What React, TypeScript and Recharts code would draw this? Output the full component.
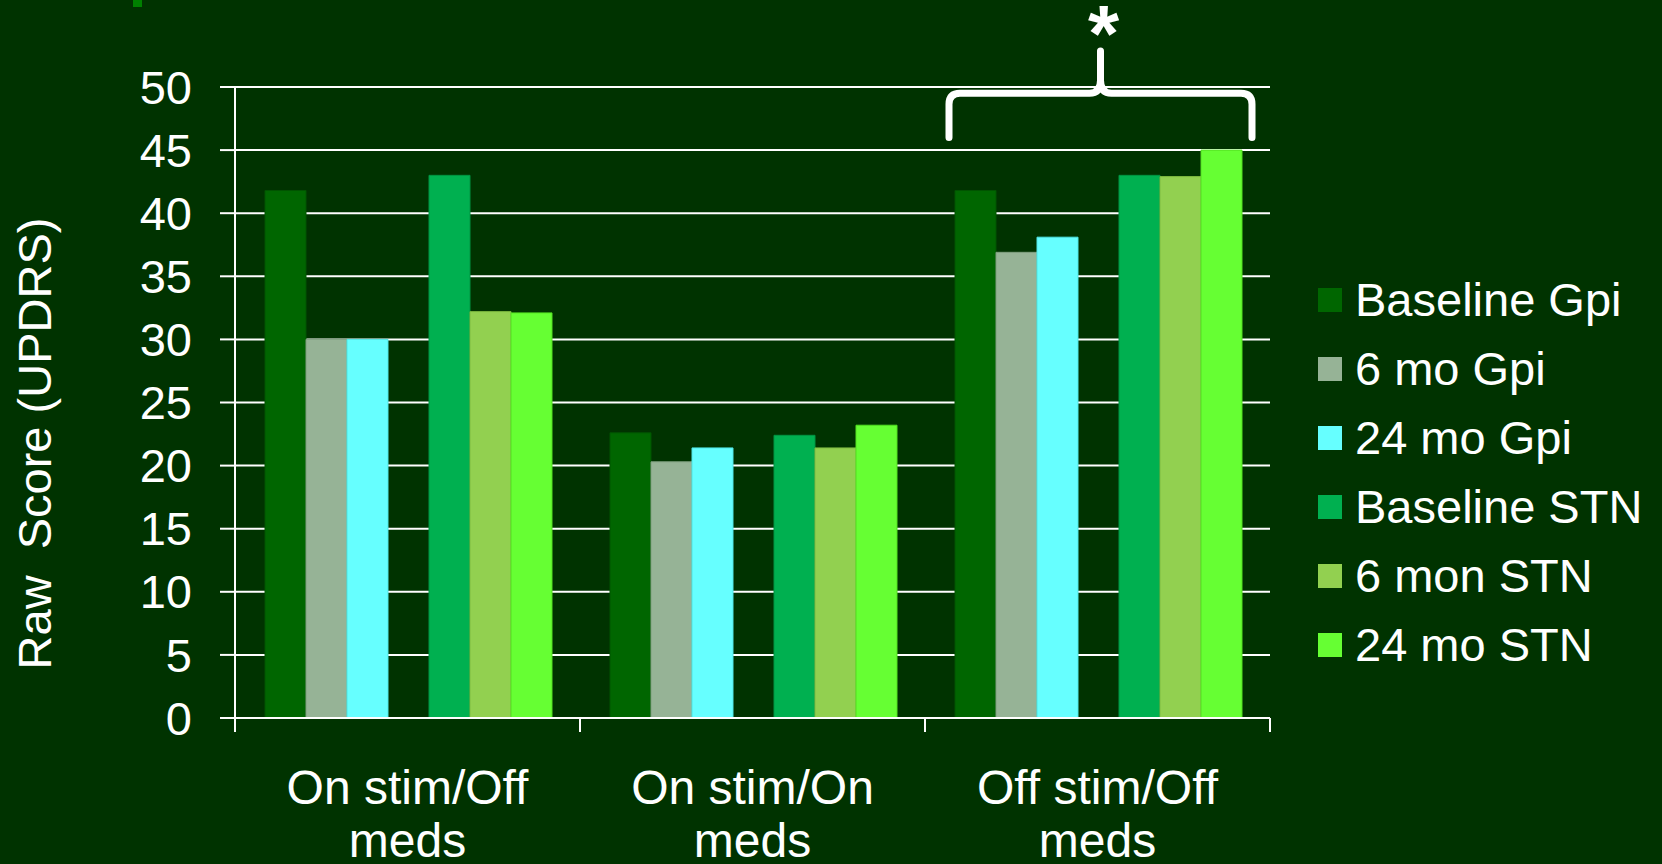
import React from 'react';
import {
  BarChart,
  Bar,
  XAxis,
  YAxis,
  CartesianGrid,
  ReferenceArea,
  Label,
} from 'recharts';

// Raw UPDRS scores by stimulation / medication state
const CATEGORIES = ['On stim/Off meds', 'On stim/On meds', 'Off stim/Off meds'];
const BASELINE_GPI = [41.8, 22.6, 41.8];
const SIX_MO_GPI = [30.0, 20.3, 36.9];
const TWENTY_FOUR_MO_GPI = [30.0, 21.4, 38.1];
const BASELINE_STN = [43.0, 22.4, 43.0];
const SIX_MON_STN = [32.2, 21.4, 42.9];
const TWENTY_FOUR_MO_STN = [32.1, 23.2, 45.0];
const Y_TICKS = [0, 5, 10, 15, 20, 25, 30, 35, 40, 45, 50];

const SERIES = [
  { key: 'baselineGpi', name: 'Baseline Gpi', values: BASELINE_GPI, fill: '#006600', stroke: '#005400' },
  { key: 'sixMoGpi', name: '6 mo Gpi', values: SIX_MO_GPI, fill: '#96B396', stroke: '#7f9f7f' },
  { key: 'twentyFourMoGpi', name: '24 mo Gpi', values: TWENTY_FOUR_MO_GPI, fill: '#66FFFF', stroke: '#4fe6e6' },
  { key: 'baselineStn', name: 'Baseline STN', values: BASELINE_STN, fill: '#00B050', stroke: '#009442' },
  { key: 'sixMonStn', name: '6 mon STN', values: SIX_MON_STN, fill: '#92D050', stroke: '#7fbb40' },
  { key: 'twentyFourMoStn', name: '24 mo STN', values: TWENTY_FOUR_MO_STN, fill: '#66FF33', stroke: '#52e020' },
];

const data = CATEGORIES.map((name, i) => {
  const row: Record<string, string | number> = { name };
  SERIES.forEach((s) => {
    row[s.key] = s.values[i];
  });
  return row;
});

const BG = '#003300';
const FONT = 'Arial, "Liberation Sans", sans-serif';
const WIDTH = 1662;
const HEIGHT = 864;
const MARGIN = { top: 87, right: 392, left: 0, bottom: 0 };
const Y_AXIS_W = 235;
const X_AXIS_H = 146;
const BAND = (WIDTH - MARGIN.left - MARGIN.right - Y_AXIS_W) / CATEGORIES.length;

// category label in two lines, with tick marks on the band edges
const XTick = (props: any) => {
  const { x, y, payload, index } = props;
  const text: string = payload.value;
  const cut = text.lastIndexOf(' ');
  const first = text.slice(0, cut);
  const second = text.slice(cut + 1);
  const half = BAND / 2;
  return (
    <g>
      <line x1={x - half} y1={y} x2={x - half} y2={y + 14} stroke="#fff" strokeWidth={2} />
      {index === CATEGORIES.length - 1 && (
        <line x1={x + half} y1={y} x2={x + half} y2={y + 14} stroke="#fff" strokeWidth={2} />
      )}
      <text x={x} y={y + 86} textAnchor="middle" fill="#fff" fontSize={48} fontFamily={FONT}>
        {first}
      </text>
      <text x={x} y={y + 139} textAnchor="middle" fill="#fff" fontSize={48} fontFamily={FONT}>
        {second}
      </text>
    </g>
  );
};

// curly brace with an asterisk over the off-stim group
const Brace = (props: any) => {
  const { x, y, width, height } = props;
  const l = x + 24;
  const r = x + width - 18;
  const cx = (l + r) / 2;
  const bottom = y + height;
  const hy = y + height * 0.507;
  const d = [
    `M ${l} ${bottom}`,
    `L ${l} ${hy + 11}`,
    `Q ${l} ${hy} ${l + 11} ${hy}`,
    `L ${cx - 11} ${hy}`,
    `Q ${cx} ${hy} ${cx} ${hy - 13}`,
    `L ${cx} ${y + 3}`,
    `M ${cx} ${hy - 13}`,
    `Q ${cx} ${hy} ${cx + 11} ${hy}`,
    `L ${r - 11} ${hy}`,
    `Q ${r} ${hy} ${r} ${hy + 11}`,
    `L ${r} ${bottom}`,
  ].join(' ');
  return (
    <g>
      <path d={d} fill="none" stroke="#fff" strokeWidth={7} strokeLinecap="round" strokeLinejoin="round" />
      <text x={cx + 3} y={y + 13} textAnchor="middle" fill="#fff" fontSize={80} fontWeight="bold" fontFamily={FONT}>
        *
      </text>
    </g>
  );
};

const YTitle = (props: any) => {
  const { viewBox } = props;
  const tx = viewBox.x + 51;
  const ty = viewBox.y + viewBox.height / 2 + 41;
  return (
    <text
      x={tx}
      y={ty}
      transform={`rotate(-90 ${tx} ${ty})`}
      textAnchor="middle"
      fill="#fff"
      fontSize={47}
      fontFamily={FONT}
      style={{ whiteSpace: 'pre' }}
    >
      {'Raw  Score (UPDRS)'}
    </text>
  );
};

export default function App() {
  return (
    <div
      style={{
        position: 'absolute',
        left: 0,
        top: 0,
        width: WIDTH,
        height: HEIGHT,
        background: BG,
        fontFamily: FONT,
        overflow: 'hidden',
      }}
    >
      <div style={{ position: 'absolute', left: 133, top: 0, width: 9, height: 7, background: '#008000' }} />
      <BarChart
        width={WIDTH}
        height={HEIGHT}
        data={data}
        margin={MARGIN}
        barCategoryGap={30}
        barGap={0}
      >
        <CartesianGrid vertical={false} stroke="#ffffff" strokeWidth={2} />
        <XAxis
          dataKey="name"
          height={X_AXIS_H}
          axisLine={{ stroke: '#fff', strokeWidth: 2 }}
          tickLine={false}
          tickSize={0}
          tickMargin={0}
          tick={<XTick />}
          interval={0}
        />
        <YAxis
          width={Y_AXIS_W}
          domain={[0, 50]}
          ticks={Y_TICKS}
          interval={0}
          axisLine={{ stroke: '#fff', strokeWidth: 2 }}
          tickLine={{ stroke: '#fff', strokeWidth: 2 }}
          tickSize={15}
          tickMargin={28}
          tick={{ fill: '#fff', fontSize: 47, fontFamily: FONT }}
        >
          <Label content={<YTitle />} />
        </YAxis>
        {SERIES.slice(0, 3).map((s) => (
          <Bar key={s.key} dataKey={s.key} name={s.name} fill={s.fill} stroke={s.stroke} strokeWidth={1} isAnimationActive={false} />
        ))}
        {/* empty slot between the Gpi and STN groups */}
        <Bar dataKey="spacer" fill="transparent" legendType="none" isAnimationActive={false} />
        {SERIES.slice(3).map((s) => (
          <Bar key={s.key} dataKey={s.key} name={s.name} fill={s.fill} stroke={s.stroke} strokeWidth={1} isAnimationActive={false} />
        ))}
        <ReferenceArea
          x1={CATEGORIES[2]}
          x2={CATEGORIES[2]}
          y1={46}
          y2={53.1}
          ifOverflow="visible"
          shape={<Brace />}
        />
      </BarChart>
      <div style={{ position: 'absolute', left: 1318, top: 265 }}>
        {SERIES.map((s) => (
          <div key={s.key} style={{ display: 'flex', alignItems: 'center', height: 69 }}>
            <div style={{ width: 24, height: 24, background: s.fill, marginRight: 13 }} />
            <span style={{ color: '#fff', fontSize: 47, whiteSpace: 'nowrap' }}>{s.name}</span>
          </div>
        ))}
      </div>
    </div>
  );
}
